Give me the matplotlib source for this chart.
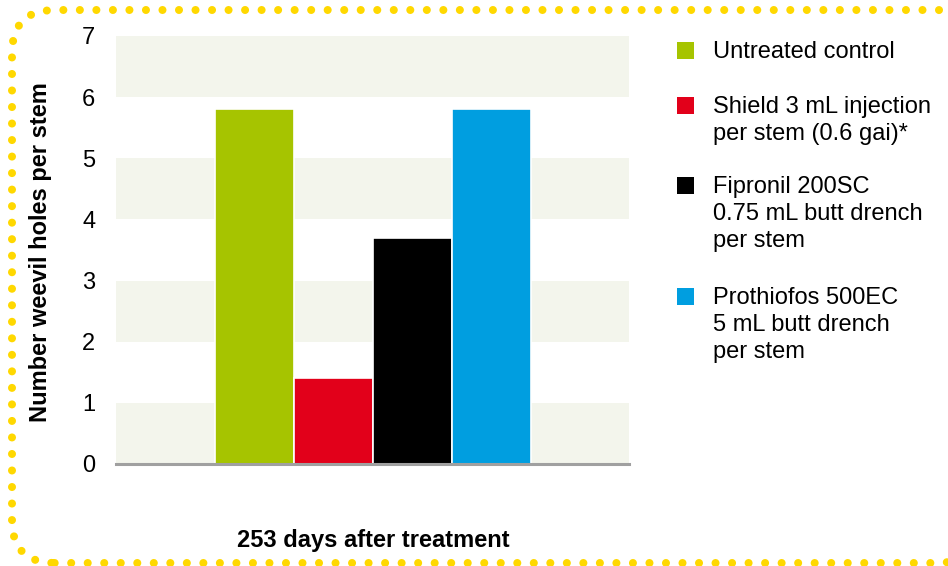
import matplotlib.pyplot as plt
from matplotlib.patches import FancyBboxPatch, Rectangle

plt.rcParams['font.family'] = ['Liberation Sans', 'DejaVu Sans']

# Data
treatments = [
    "Untreated control",
    "Shield 3 mL injection\nper stem (0.6 gai)*",
    "Fipronil 200SC\n0.75 mL butt drench\nper stem",
    "Prothiofos 500EC\n5 mL butt drench\nper stem",
]
holes_per_stem = [5.8, 1.4, 3.7, 5.8]
bar_colors = ["#A6C400", "#E2001A", "#000000", "#009EE0"]
y_ticks = [0, 1, 2, 3, 4, 5, 6, 7]
x_label = "253 days after treatment"
y_label = "Number weevil holes per stem"

W, H = 948, 566
fig = plt.figure(figsize=(W / 100, H / 100), dpi=100)

# dotted yellow frame (behind everything)
frame = FancyBboxPatch((12 / W, 3 / H), (W + 20) / W, (563 - 10) / H,
                       boxstyle="round,pad=0,rounding_size=0.045",
                       transform=fig.transFigure, facecolor="white",
                       edgecolor="#FFD800", linewidth=5.8,
                       linestyle=(0, (0.001, 2.05)), capstyle="round",
                       mutation_aspect=W / H, zorder=-5)
fig.patches.append(frame)

ax = fig.add_axes([116 / W, 1 - 464 / H, 513 / W, 428 / H])
ax.set_facecolor("none")

# alternating bands
for lo in range(0, 7, 2):
    ax.axhspan(lo, lo + 1, color="#F3F5EC", zorder=0, lw=0)

bw = 79 / 513
offsets = [(i - 1.5) * bw for i in range(len(holes_per_stem))]
ax.bar(offsets, holes_per_stem, width=bw, color=bar_colors,
       edgecolor="white", linewidth=1.2, zorder=2)

ax.set_xlim(-0.5, 0.5)
ax.set_ylim(0, 7)
ax.set_xticks([])
ax.set_yticks(y_ticks)
ax.tick_params(axis="y", length=0, pad=15, labelsize=17)
for s in ["top", "right", "left"]:
    ax.spines[s].set_visible(False)
ax.spines["bottom"].set_color("#A0A0A0")
ax.spines["bottom"].set_linewidth(2.2)
ax.spines["bottom"].set_zorder(3)

fig.text(41 / W, 1 - 252 / H, y_label, rotation=90, ha="center", va="center",
         fontsize=17, fontweight="bold")
fig.text(373 / W, 1 - 540 / H, x_label, ha="center", va="center",
         fontsize=17, fontweight="bold")

# legend drawn by hand so the swatch lines up with the first text line
first_baselines = [58, 113, 193, 304]
line_step = 27
for label, color, base in zip(treatments, bar_colors, first_baselines):
    fig.patches.append(Rectangle((677 / W, 1 - (base - 8 + 8.5) / H), 17 / W, 17 / H,
                                 transform=fig.transFigure, facecolor=color,
                                 edgecolor="none"))
    for i, line in enumerate(label.split("\n")):
        fig.text(713 / W, 1 - (base + i * line_step) / H, line, ha="left",
                 va="baseline", fontsize=17)

fig.savefig("out.png", dpi=100)
